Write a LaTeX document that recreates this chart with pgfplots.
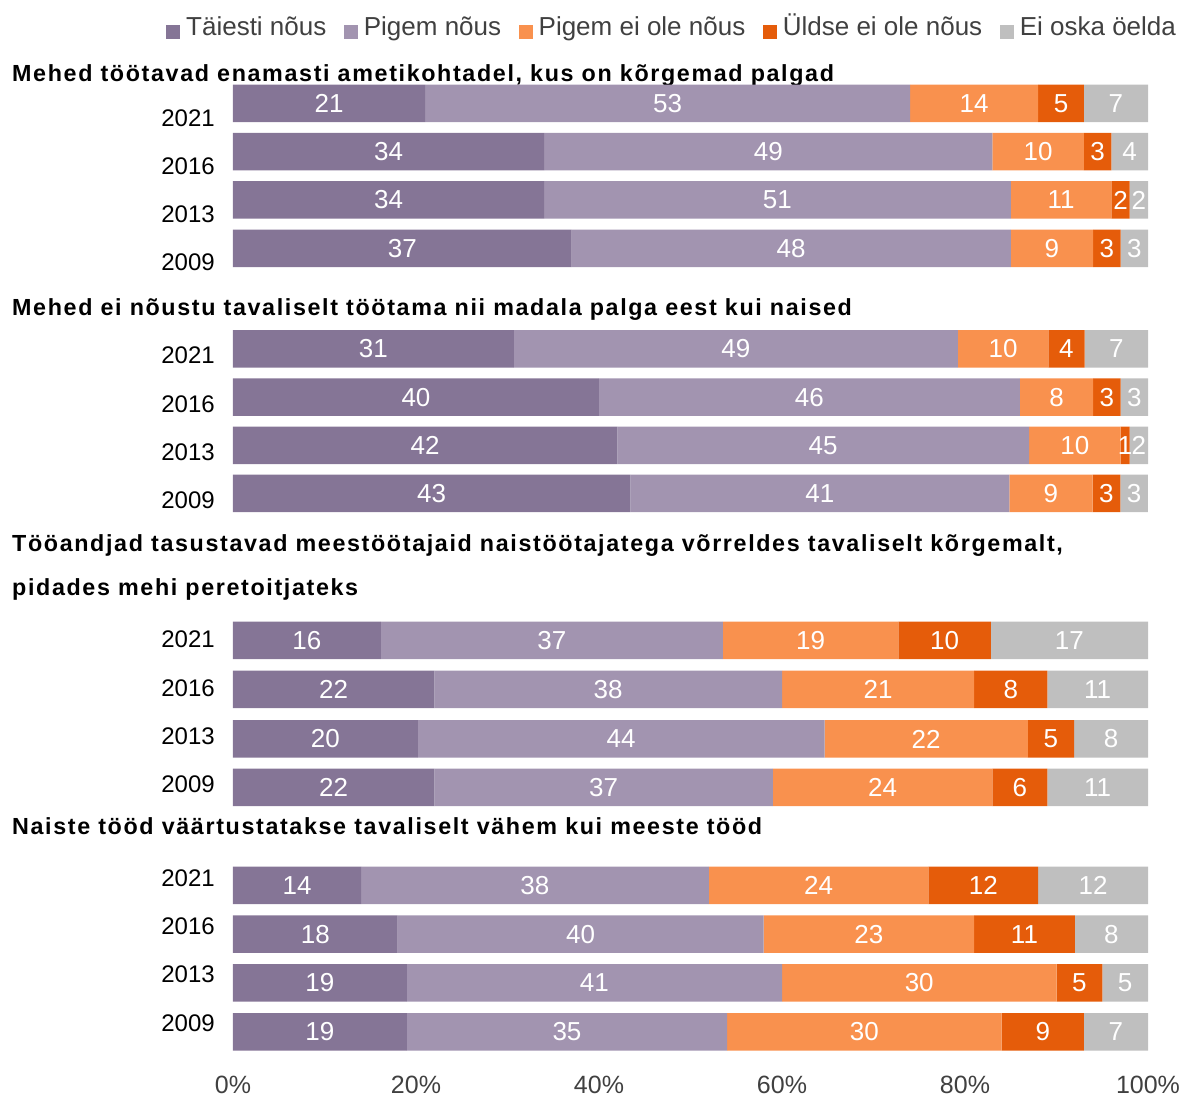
\documentclass[border=0pt]{standalone}
\usepackage{pgfplots}
\pgfplotsset{compat=1.18}
\usepackage{pgfplotstable}
\usepackage{fontspec}
\setmainfont{Liberation Sans}
\newfontfamily\titlefont[LetterSpace=7.0]{Liberation Sans Bold}
\definecolor{cA}{HTML}{857596}
\definecolor{cB}{HTML}{A294B0}
\definecolor{cC}{HTML}{F9914E}
\definecolor{cD}{HTML}{E55C0A}
\definecolor{cE}{HTML}{BFBFBF}
\definecolor{txt}{HTML}{404040}
% y = minus the row's vertical position; columns: the five answers (share of answers, %)
\pgfplotstableread{
y       a       b       c       d       e
-103.3  21      53      14      5       7
-151.7  34      49      10      3       4
-200.0  34      51      11      2       2
-248.5  37      48      9       3       3
-349.0  30.693  48.515  9.901   3.960   6.931
-397.2  40      46      8       3       3
-445.5  42      45      10      1       2
-493.4  43.434  41.414  9.091   3.030   3.030
-640.5  16.162  37.374  19.192  10.101  17.172
-689.5  22      38      21      8       11
-739.0  20.202  44.444  22.222  5.051   8.081
-787.5  22      37      24      6       11
-885.5  14      38      24      12      12
-934.2  18      40      23      11      8
-983.0  19      41      30      5       5
-1032.0 19      35      30      9       7
}\tbl
\begin{document}
\begin{tikzpicture}
\useasboundingbox (-233pt,-27pt) rectangle (951pt,1070pt);
\begin{axis}[
  at={(0pt,0pt)}, anchor=south west,
  scale only axis, width=915pt, height=1030pt,
  xmin=0, xmax=100, ymin=-1070, ymax=-40,
  enlargelimits=false, clip=false,
  xbar stacked, bar width=37.5,
  axis line style={draw=none},
  tick style={draw=none}, major tick length=0pt,
  xtick={0,20,40,60,80,100},
  xticklabels={0\%,20\%,40\%,60\%,80\%,100\%},
  xticklabel style={anchor=base, inner sep=0pt, yshift=-24pt, text=txt,
     font=\fontsize{25}{30}\selectfont},
  ytick={-117.8,-166,-214.5,-262,-355.2,-403.8,-451.8,-500.7,-639.2,-687.8,-736.2,-784.5,-877.8,-926.3,-974.7,-1022.8},
  yticklabels={2021,2016,2013,2009,2021,2016,2013,2009,2021,2016,2013,2009,2021,2016,2013,2009},
  yticklabel style={anchor=east, inner sep=0pt, xshift=-18pt, text=black,
     font=\fontsize{24}{29}\selectfont},
  point meta=explicit symbolic,
  nodes near coords={\pgfmathprintnumber[fixed,precision=0,assume math mode=true]{\pgfplotspointmeta}},
  every node near coord/.append style={anchor=center, inner sep=0pt, text=white,
     font=\fontsize{26}{30}\selectfont},
  legend columns=5,
  legend image code/.code={\fill[#1] (0pt,-5.5pt) rectangle (14pt,8.5pt);},
  legend style={at={(axis description cs:-0.07322,1.00796)}, anchor=west,
     draw=none, fill=none, inner sep=0pt, text=txt,
     font=\fontsize{26}{31}\selectfont,
     nodes={inner sep=0pt, text height=0.75em, text depth=0.25em},
     /tikz/every odd column/.append style={column sep=6pt},
     /tikz/every even column/.append style={column sep=17.5pt}},
]
\addplot[fill=cA, draw=none] table[x=a, y=y, meta=a] {\tbl};
\addplot[fill=cB, draw=none] table[x=b, y=y, meta=b] {\tbl};
\addplot[fill=cC, draw=none] table[x=c, y=y, meta=c] {\tbl};
\addplot[fill=cD, draw=none] table[x=d, y=y, meta=d] {\tbl};
\addplot[fill=cE, draw=none] table[x=e, y=y, meta=e] {\tbl};
\legend{Täiesti nõus, Pigem nõus, Pigem ei ole nõus, Üldse ei ole nõus, Ei oska öelda}
\node[anchor=base west, inner sep=0pt, font=\titlefont\fontsize{23.3}{28}\selectfont] at (axis cs:-24.153,-81.7) {Mehed töötavad enamasti ametikohtadel, kus on kõrgemad palgad};
\node[anchor=base west, inner sep=0pt, font=\titlefont\fontsize{23.3}{28}\selectfont] at (axis cs:-24.153,-316) {Mehed ei nõustu tavaliselt töötama nii madala palga eest kui naised};
\node[anchor=base west, inner sep=0pt, font=\titlefont\fontsize{23.3}{28}\selectfont] at (axis cs:-24.153,-551.7) {Tööandjad tasustavad meestöötajaid naistöötajatega võrreldes tavaliselt kõrgemalt,};
\node[anchor=base west, inner sep=0pt, font=\titlefont\fontsize{23.3}{28}\selectfont] at (axis cs:-24.153,-596) {pidades mehi peretoitjateks};
\node[anchor=base west, inner sep=0pt, font=\titlefont\fontsize{23.3}{28}\selectfont] at (axis cs:-24.153,-835) {Naiste tööd väärtustatakse tavaliselt vähem kui meeste tööd};
\end{axis}
\end{tikzpicture}
\end{document}
